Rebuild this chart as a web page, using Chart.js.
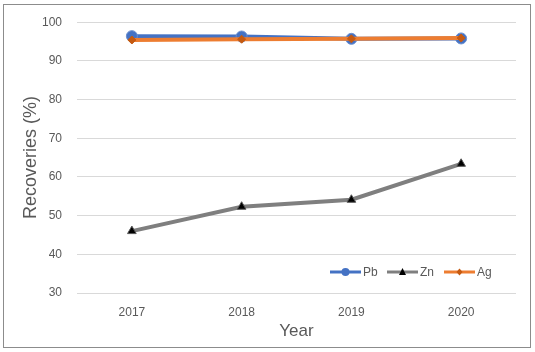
<!DOCTYPE html>
<html>
<head>
<meta charset="utf-8">
<script src="https://cdn.jsdelivr.net/npm/chart.js@4/dist/chart.umd.min.js"></script>
<style>
  html, body { margin: 0; padding: 0; background: #fff; }
  #wrap { width: 535px; height: 352px; }
</style>
</head>
<body>
<div id="wrap"><canvas id="bieuDo" width="535" height="352"></canvas></div>
<script>
// data
const years = ['2017', '2018', '2019', '2020'];
const pb = [96.4, 96.3, 95.7, 95.8];
const zn = [46.0, 52.3, 54.1, 63.4];
const ag = [95.4, 95.6, 95.7, 95.9];
const yTicks = [30, 40, 50, 60, 70, 80, 90, 100];

const textGray = '#595959';
const fontFam = '"Liberation Sans", Arial, sans-serif';

// frame round the whole picture
const frame = {
    id: 'frame',
    beforeDraw(chart) {
        const c = chart.ctx;
        c.save();
        c.fillStyle = '#fff';
        c.fillRect(0, 0, chart.width, chart.height);
        c.strokeStyle = '#8c8c8c';
        c.lineWidth = 1;
        c.strokeRect(3.5, 4.5, 527, 343);
        c.restore();
    }
};

// legend drawn inside the plot, line + marker like the original
const legendIn = {
    id: 'legendIn',
    afterDatasetsDraw(chart) {
        const c = chart.ctx;
        const area = chart.chartArea;
        const y = area.bottom - 21;
        let x = area.right - 186;
        c.save();
        c.font = '12px ' + fontFam;
        c.textBaseline = 'middle';
        chart.data.datasets.forEach(ds => {
            c.strokeStyle = ds.borderColor;
            c.lineWidth = 3;
            c.beginPath();
            c.moveTo(x, y);
            c.lineTo(x + 31, y);
            c.stroke();
            const cx = x + 15.5;
            c.fillStyle = ds.pointBackgroundColor;
            c.beginPath();
            if (ds.pointStyle === 'circle') {
                c.arc(cx, y, 4, 0, Math.PI * 2);
            } else if (ds.pointStyle === 'triangle') {
                c.moveTo(cx, y - 4);
                c.lineTo(cx + 3.5, y + 3);
                c.lineTo(cx - 3.5, y + 3);
                c.closePath();
            } else {
                c.moveTo(cx, y - 3.5);
                c.lineTo(cx + 3, y);
                c.lineTo(cx, y + 3.5);
                c.lineTo(cx - 3, y);
                c.closePath();
            }
            c.fill();
            c.fillStyle = textGray;
            c.textAlign = 'left';
            c.fillText(ds.label, x + 33, y + 1);
            x += 57;
        });
        c.restore();
    }
};

const data = {
    labels: years,
    datasets: [{
            label: 'Pb',
            data: pb,
            borderColor: '#4472C4',
            backgroundColor: '#4472C4',
            borderWidth: 4,
            pointStyle: 'circle',
            pointRadius: 5.5,
            pointBackgroundColor: '#4472C4',
            pointBorderColor: '#6a8fd0',
            pointBorderWidth: 1,
            order: 2
        }, {
            label: 'Zn',
            data: zn,
            borderColor: '#7F7F7F',
            backgroundColor: '#7F7F7F',
            borderWidth: 4,
            pointStyle: 'triangle',
            pointRadius: 5,
            pointBackgroundColor: '#000000',
            pointBorderColor: '#555555',
            pointBorderWidth: 1,
            order: 1
        }, {
            label: 'Ag',
            data: ag,
            borderColor: '#ED7D31',
            backgroundColor: '#ED7D31',
            borderWidth: 4,
            pointStyle: 'rectRot',
            pointRadius: 4,
            pointBackgroundColor: '#C55A11',
            pointBorderColor: '#C55A11',
            pointBorderWidth: 1,
            order: 0
        }]
};

const config = {
    type: 'line',
    data: data,
    plugins: [frame, legendIn],
    options: {
        responsive: false,
        animation: false,
        layout: { padding: { left: 20, right: 19, top: 17, bottom: 10 } },
        elements: { line: { tension: 0 } },
        plugins: {
            legend: { display: false },
            tooltip: { enabled: false }
        },
        scales: {
            x: {
                offset: true,
                grid: { display: false },
                border: { display: false },
                ticks: {
                    color: textGray,
                    font: { family: fontFam, size: 12 },
                    padding: 4
                },
                title: {
                    display: true,
                    text: 'Year',
                    color: textGray,
                    font: { family: fontFam, size: 17 },
                    padding: 0
                },
                afterFit(scale) { scale.height = 49; }
            },
            y: {
                min: 30,
                max: 100,
                afterBuildTicks(scale) { scale.ticks = yTicks.map(v => ({ value: v })); },
                grid: { color: '#d9d9d9', lineWidth: 1, drawTicks: false },
                border: { display: false },
                ticks: {
                    color: textGray,
                    font: { family: fontFam, size: 12 },
                    padding: 15
                },
                title: {
                    display: true,
                    text: 'Recoveries (%)',
                    color: textGray,
                    font: { family: fontFam, size: 18 },
                    padding: 0
                },
                afterFit(scale) { scale.width = 57; }
            }
        }
    }
};

let bieuDo = document.getElementById('bieuDo').getContext('2d');
new Chart(bieuDo, config);
</script>
</body>
</html>
